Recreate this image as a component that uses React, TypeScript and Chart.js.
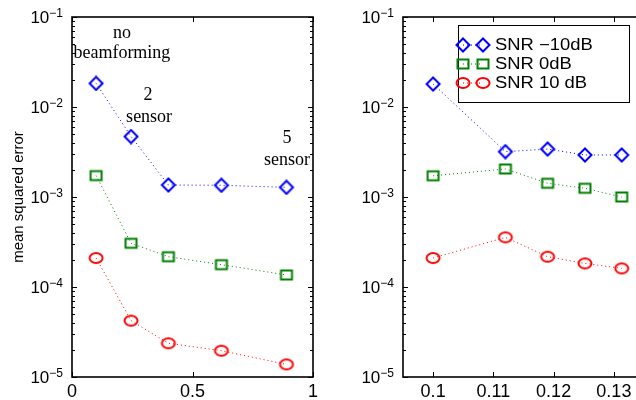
import React, { useEffect, useRef } from 'react';
import { Chart, registerables } from 'chart.js';

Chart.register(...registerables);

// ---------- data ----------
const seriesLabels = ['SNR \u221210dB', 'SNR 0dB', 'SNR 10 dB'];
const seriesColors = ['#0000ff', '#008000', '#ff0000'];

const leftX = [0.1, 0.245, 0.4, 0.62, 0.89];
const leftBlue = [0.0183, 0.0047, 0.00136, 0.00135, 0.00128];
const leftGreen = [0.00173, 0.000306, 0.000217, 0.000177, 0.000136];
const leftRed = [0.00021, 0.0000423, 0.0000237, 0.0000196, 0.0000138];

const rightX = [0.1, 0.112, 0.119, 0.1252, 0.1313];
const rightBlue = [0.018, 0.00319, 0.00341, 0.00293, 0.00293];
const rightGreen = [0.00172, 0.00205, 0.00142, 0.00125, 0.001];
const rightRed = [0.00021, 0.000356, 0.000217, 0.000183, 0.000161];

const leftXTicks = [0, 0.5, 1];
const rightXTicks = [0.1, 0.11, 0.12, 0.13];
const yDecades = [-5, -4, -3, -2, -1];

const yTitle = 'mean squared error';

const annotationTexts = ['no', 'beamforming', '2', 'sensor', '5', 'sensor'];
const annotationX = [0.207, 0.207, 0.315, 0.32, 0.892, 0.892];
const annotationY = [0.0664, 0.0398, 0.0136, 0.00774, 0.00453, 0.00258];

// ---------- helpers ----------
const SANS = '"Liberation Sans", Arial, Helvetica, sans-serif';
const SERIF = '"Liberation Serif", "Times New Roman", serif';

function makeMarker(kind: string, color: string): HTMLCanvasElement {
  const c = document.createElement('canvas');
  const W = 18, H = 16;
  c.width = W; c.height = H;
  const ctx = c.getContext('2d')!;
  ctx.strokeStyle = color;
  ctx.lineWidth = 2;
  const cx = W / 2, cy = H / 2;
  ctx.beginPath();
  if (kind === 'diamond') {
    ctx.moveTo(cx, cy - 6.5);
    ctx.lineTo(cx + 6.5, cy);
    ctx.lineTo(cx, cy + 6.5);
    ctx.lineTo(cx - 6.5, cy);
    ctx.closePath();
  } else if (kind === 'square') {
    ctx.rect(cx - 5.5, cy - 4.5, 11, 9);
  } else {
    ctx.ellipse(cx, cy, 6.5, 5, 0, 0, Math.PI * 2);
  }
  ctx.stroke();
  return c;
}

function buildYTicks() {
  const t: { value: number; major: boolean }[] = [];
  for (let i = 0; i < yDecades.length; i++) {
    const p = yDecades[i];
    const base = Math.pow(10, p);
    t.push({ value: base, major: true });
    if (i < yDecades.length - 1) {
      for (let m = 2; m <= 9; m++) t.push({ value: m * base, major: false });
    }
  }
  return t;
}

function exponentOf(v: number): number | null {
  const p = Math.log10(v);
  const r = Math.round(p);
  return Math.abs(p - r) > 1e-6 ? null : r;
}

const framePlugin = {
  id: 'frame',
  afterDraw(chart: any) {
    const { ctx, chartArea } = chart;
    const { left, right, top, bottom } = chartArea;
    ctx.save();
    ctx.strokeStyle = '#000';
    ctx.lineWidth = 1.6;
    ctx.strokeRect(left, top, right - left, bottom - top);
    ctx.lineWidth = 1;
    const ys = chart.scales.y;
    ys.ticks.forEach((t: any) => {
      const y = Math.round(ys.getPixelForValue(t.value)) + 0.5;
      const len = t.major ? 5 : 3;
      ctx.beginPath();
      ctx.moveTo(left, y); ctx.lineTo(left + len, y);
      ctx.moveTo(right, y); ctx.lineTo(right - len, y);
      ctx.stroke();
    });
    const xs = chart.scales.x;
    xs.ticks.forEach((t: any) => {
      const x = Math.round(xs.getPixelForValue(t.value)) + 0.5;
      ctx.beginPath();
      ctx.moveTo(x, bottom); ctx.lineTo(x, bottom - 5);
      ctx.moveTo(x, top); ctx.lineTo(x, top + 5);
      ctx.stroke();
    });
    // y tick labels: 10 with superscript exponent
    ctx.fillStyle = '#000';
    ctx.textBaseline = 'alphabetic';
    ys.ticks.forEach((t: any) => {
      const e = exponentOf(t.value);
      if (e === null) return;
      const y = ys.getPixelForValue(t.value);
      const expText = (e < 0 ? '\u2212' : '') + String(Math.abs(e));
      ctx.font = `12px ${SANS}`;
      const ew = ctx.measureText(expText).width;
      const endX = left - 9;
      ctx.textAlign = 'left';
      ctx.fillText(expText, endX - ew, y);
      ctx.font = `17px ${SANS}`;
      ctx.textAlign = 'right';
      ctx.fillText('10', endX - ew, y + 6);
    });
    ctx.restore();
  },
};

const annotationPlugin = {
  id: 'annot',
  afterDatasetsDraw(chart: any, _args: any, opts: any) {
    if (!opts || !opts.show) return;
    const { ctx } = chart;
    const xs = chart.scales.x, ys = chart.scales.y;
    ctx.save();
    ctx.fillStyle = '#000';
    ctx.font = `18px ${SERIF}`;
    ctx.textAlign = 'center';
    ctx.textBaseline = 'middle';
    annotationTexts.forEach((txt, i) => {
      ctx.fillText(txt, xs.getPixelForValue(annotationX[i]), ys.getPixelForValue(annotationY[i]));
    });
    ctx.restore();
  },
};

const legendPlugin = {
  id: 'mlegend',
  afterDraw(chart: any, _args: any, opts: any) {
    if (!opts || !opts.show) return;
    const { ctx, chartArea } = chart;
    const bx = chartArea.left + 55, by = chartArea.top + 8, bw = 171, bh = 77;
    ctx.save();
    ctx.fillStyle = '#fff';
    ctx.fillRect(bx, by, bw, bh);
    ctx.strokeStyle = '#000';
    ctx.lineWidth = 1;
    ctx.strokeRect(Math.round(bx) + 0.5, Math.round(by) + 0.5, bw, bh);
    const rows = [20, 39, 58];
    chart.data.datasets.forEach((ds: any, i: number) => {
      const y = by + rows[i];
      const x1 = bx + 5, x2 = bx + 25;
      ctx.strokeStyle = ds.borderColor;
      ctx.lineWidth = 1;
      ctx.setLineDash([1, 3]);
      ctx.beginPath();
      ctx.moveTo(x1, y); ctx.lineTo(x2, y);
      ctx.stroke();
      ctx.setLineDash([]);
      const img = ds.pointStyle as HTMLCanvasElement;
      ctx.drawImage(img, x1 - img.width / 2, y - img.height / 2);
      ctx.drawImage(img, x2 - img.width / 2, y - img.height / 2);
      ctx.save();
      ctx.translate(bx + 37, y + 1);
      ctx.scale(1.15, 1);
      ctx.fillStyle = '#000';
      ctx.font = `16px ${SANS}`;
      ctx.textAlign = 'left';
      ctx.textBaseline = 'middle';
      ctx.fillText(ds.label, 0, 0);
      ctx.restore();
    });
    ctx.restore();
  },
};

function makeConfig(xv: number[], series: number[][], xTicks: number[], xmin: number, xmax: number, isLeft: boolean): any {
  const kinds = ['diamond', 'square', 'circle'];
  return {
    type: 'line',
    data: {
      datasets: series.map((ys, i) => ({
        label: seriesLabels[i],
        data: xv.map((x, j) => ({ x, y: ys[j] })),
        borderColor: seriesColors[i],
        backgroundColor: 'transparent',
        borderWidth: 1,
        borderDash: [1, 3],
        pointStyle: makeMarker(kinds[i], seriesColors[i]),
        pointRadius: 6,
        showLine: true,
        tension: 0,
      })),
    },
    options: {
      responsive: false,
      animation: false,
      events: [],
      layout: { padding: { left: 0, right: 17, top: 17, bottom: 0 } },
      plugins: {
        legend: { display: false },
        tooltip: { enabled: false },
        annot: { show: isLeft },
        mlegend: { show: !isLeft },
      },
      scales: {
        x: {
          type: 'linear',
          min: xmin,
          max: xmax,
          grid: { display: false, drawTicks: false },
          border: { display: false },
          afterBuildTicks: (s: any) => { s.ticks = xTicks.map((v) => ({ value: v })); },
          afterFit: (s: any) => { s.height = 23; },
          ticks: {
            autoSkip: false,
            maxRotation: 0,
            padding: 4,
            color: '#000',
            font: { family: SANS, size: 18 },
            callback: (v: number) => String(Number(v.toFixed(4))),
          },
        },
        y: {
          type: 'logarithmic',
          min: 1e-5,
          max: 1e-1,
          grid: { display: false, drawTicks: false },
          border: { display: false },
          afterBuildTicks: (s: any) => { s.ticks = buildYTicks(); },
          afterFit: (s: any) => { s.width = 72; },
          title: {
            display: isLeft,
            text: yTitle,
            color: '#000',
            font: { family: SANS, size: 15 },
            padding: { top: 10, bottom: 0 },
          },
          ticks: {
            display: false,
            autoSkip: false,
          },
        },
      },
    },
    plugins: [framePlugin, annotationPlugin, legendPlugin],
  };
}

function Panel({ left, cfg }: { left: number; cfg: () => any }) {
  const ref = useRef<HTMLCanvasElement>(null);
  useEffect(() => {
    const chart = new Chart(ref.current!, cfg());
    return () => chart.destroy();
  }, []);
  return (
    <canvas
      ref={ref}
      width={330}
      height={400}
      style={{ position: 'absolute', left, top: 0, width: 330, height: 400 }}
    />
  );
}

export default function App() {
  return (
    <div
      style={{
        position: 'fixed', left: 0, top: 0, width: 636, height: 400,
        overflow: 'hidden', background: '#fff',
      }}
    >
      <Panel left={0} cfg={() => makeConfig(leftX, [leftBlue, leftGreen, leftRed], leftXTicks, 0, 1, true)} />
      <Panel left={331} cfg={() => makeConfig(rightX, [rightBlue, rightGreen, rightRed], rightXTicks, 0.095, 0.135, false)} />
    </div>
  );
}
